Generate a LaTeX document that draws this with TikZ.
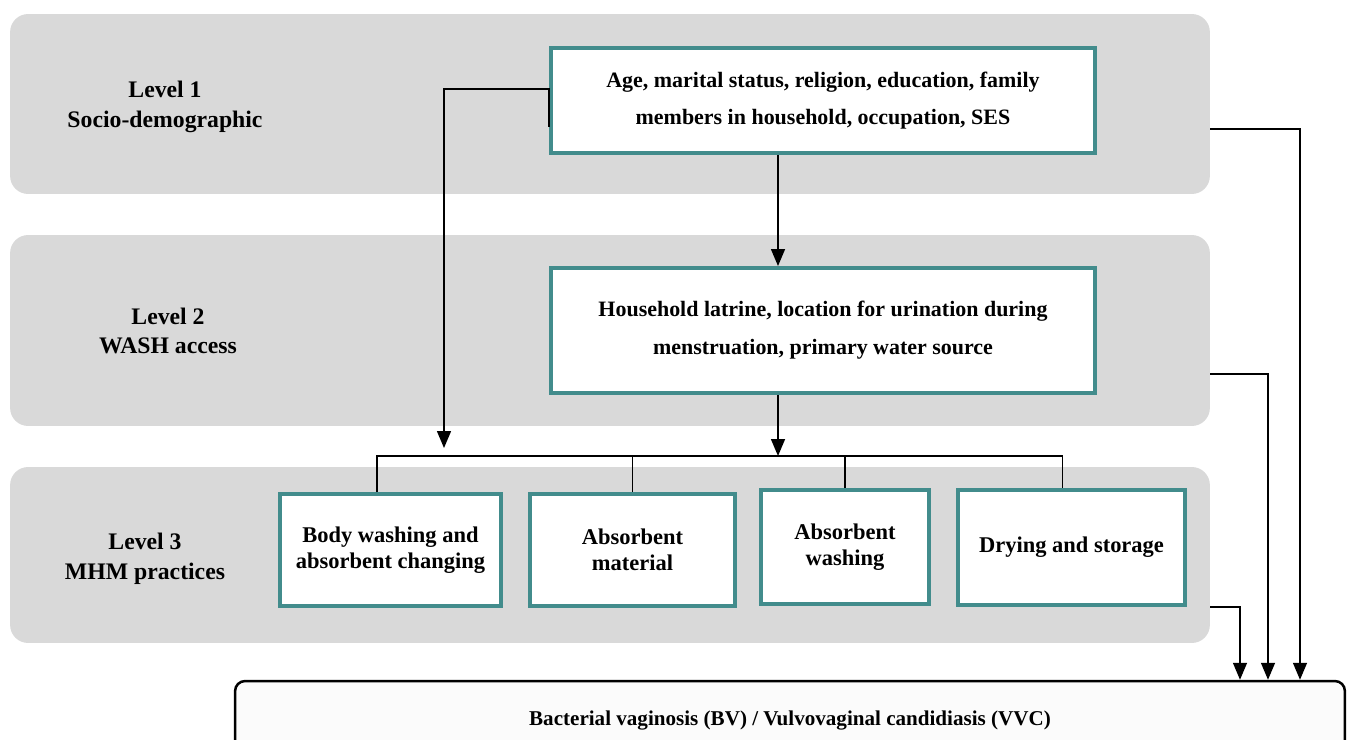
\documentclass[tikz,border=0pt]{standalone}
\usepackage{fontspec}
\setmainfont{Liberation Serif}
\usetikzlibrary{arrows.meta}
\definecolor{bandgray}{HTML}{D9D9D9}
\definecolor{boxteal}{HTML}{428C8C}
\definecolor{outfill}{HTML}{FBFBFB}
\begin{document}
\begin{tikzpicture}[x=0.02cm, y=-0.02cm,
    band/.style = {fill=bandgray, rounded corners=0.36cm, minimum width=24cm, inner sep=0pt},
    lvl/.style = {align=center, font=\fontsize{13.5}{17}\selectfont\bfseries},
    box/.style = {draw=boxteal, line width=0.08cm, fill=white, align=center, inner sep=0pt,
                  font=\fontsize{12.5}{21.5}\selectfont\bfseries},
    mbox/.style = {box, font=\fontsize{12.8}{15}\selectfont\bfseries},
    ln/.style = {line width=0.03cm},
    arr/.style = {ln, -{Triangle[width=0.28cm,length=0.34cm]}}]
    \useasboundingbox (0,0) rectangle (1347,740);

    % level bands
    \node[band, minimum height=3.6cm] (l1) at (610,104) { };
    \node[band, minimum height=3.82cm] (l2) at (610,330.5) { };
    \node[band, minimum height=3.52cm] (l3) at (610,555) { };
    \node[lvl] (t1) at (165,107) {Level 1\\Socio-demographic};
    \node[lvl] (t2) at (168,331) {Level 2\\WASH access};
    \node[lvl] (t3) at (145,559) {Level 3\\MHM practices};

    % factor boxes
    \node[box, minimum width=10.88cm, minimum height=2.1cm] (b1) at (823,100.5)
        {Age, marital status, religion, education, family\\members in household, occupation, SES};
    \node[box, minimum width=10.88cm, minimum height=2.5cm] (b2) at (823,330.5)
        {Household latrine, location for urination during\\menstruation, primary water source};
    \node[mbox, minimum width=4.42cm, minimum height=2.24cm] (ma) at (390.5,550)
        {Body washing and\\absorbent changing};
    \node[mbox, minimum width=4.1cm, minimum height=2.24cm] (mb) at (632.5,550)
        {Absorbent\\material};
    \node[mbox, minimum width=3.36cm, minimum height=2.28cm] (mc) at (845,547)
        {Absorbent\\washing};
    \node[mbox, minimum width=4.54cm, minimum height=2.3cm] (md) at (1071.5,547.5)
        {Drying and storage};

    % outcome
    \node[draw, line width=0.05cm, fill=outfill, rounded corners=0.2cm, minimum width=22.2cm,
          minimum height=1.8cm, inner sep=0pt, font=\fontsize{12}{15}\selectfont\bfseries]
          (out) at (790,726) {\raisebox{0.3cm}{Bacterial vaginosis (BV) / Vulvovaginal candidiasis (VVC)}};

    \coordinate (bar) at (610,456);
    \coordinate (lt) at (444,89);
    \coordinate (r1) at (1300,0);
    \coordinate (r2) at (1268,0);
    \coordinate (r3) at (1240,0);

    \draw[arr] ([xshift=-0.9cm]b1.south) to ([xshift=-0.9cm]b2.north);
    \draw[arr] ([xshift=-0.9cm]b2.south) to ([xshift=-0.9cm]b2.south |- bar);
    \draw[arr, shorten >=0.16cm] ([yshift=-0.53cm]b1.west) |- (lt) -- (lt |- bar);
    \draw[ln] ([xshift=-0.27cm]ma.north) |- (bar) -| ([xshift=-0.18cm]md.north);
    \draw[ln] (mb.north) to (mb.north |- bar);
    \draw[ln] (mc.north) to (mc.north |- bar);

    \draw[arr] ([yshift=-0.5cm]l1.east) -| (r1 |- out.north);
    \draw[arr] ([yshift=-0.87cm]l2.east) -| (r2 |- out.north);
    \draw[arr] ([yshift=-1.04cm]l3.east) -| (r3 |- out.north);
\end{tikzpicture}
\end{document}
